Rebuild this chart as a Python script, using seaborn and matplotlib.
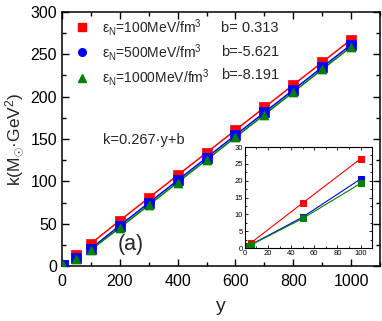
import numpy as np
import pandas as pd
import matplotlib
matplotlib.use("Agg")
import matplotlib.pyplot as plt
import seaborn as sns
from matplotlib.lines import Line2D
from matplotlib.ticker import MultipleLocator

sns.set_theme(style="ticks")
plt.rcParams['font.family'] = ['Liberation Sans', 'DejaVu Sans']
plt.rcParams['mathtext.fontset'] = 'custom'
plt.rcParams['mathtext.rm'] = 'Liberation Sans'
plt.rcParams['mathtext.it'] = 'Liberation Sans:italic'
plt.rcParams['mathtext.sf'] = 'Liberation Sans'

# ---- data ----
y_vals = [1, 5, 50, 100, 200, 300, 400, 500, 600, 700, 800, 900, 1000]
k_100 = [0.5, 1.5, 13.4, 26.5, 53.7, 80.4, 107.1, 133.8, 160.5, 187.2, 213.9, 240.6, 267.3]
k_500 = [0.3, 1.0, 9.2, 20.5, 47.8, 74.5, 101.2, 127.9, 154.6, 181.3, 208.0, 234.7, 261.4]
k_1000 = [0.3, 0.9, 8.8, 19.2, 45.2, 71.9, 98.6, 125.3, 152.0, 178.7, 205.4, 232.1, 258.8]
series_labels = [r'ε$_{\mathrm{N}}$=100MeV/fm$^{3}$',
                 r'ε$_{\mathrm{N}}$=500MeV/fm$^{3}$',
                 r'ε$_{\mathrm{N}}$=1000MeV/fm$^{3}$']
b_labels = ['b= 0.313', 'b=-5.621', 'b=-8.191']
colors = ['#ff0000', '#0000ff', '#008000']
main_markers = ['s', 's', '^']
legend_markers = ['s', 'o', '^']

rows = []
for lab, ks in zip(series_labels, [k_100, k_500, k_1000]):
    for yv, kv in zip(y_vals, ks):
        rows.append({'y': yv, 'k': kv, 'series': lab})
df = pd.DataFrame(rows)

fig = plt.figure(figsize=(3.82, 3.21), dpi=100)
ax = fig.add_axes([0.162, 0.171, 0.833, 0.792])

for lab, col, mk in zip(series_labels, colors, main_markers):
    sub = df[df['series'] == lab]
    fit = sub[sub['y'] >= 100]
    sns.lineplot(data=fit, x='y', y='k', color=col, lw=1.1, ax=ax, legend=False)
    sns.scatterplot(data=sub, x='y', y='k', color=col, marker=mk, s=42,
                    edgecolor=col, linewidth=0.5, ax=ax, legend=False, zorder=3)

ax.set_xlim(0, 1100)
ax.set_ylim(0, 300)
ax.xaxis.set_major_locator(MultipleLocator(200))
ax.xaxis.set_minor_locator(MultipleLocator(100))
ax.yaxis.set_major_locator(MultipleLocator(50))
ax.yaxis.set_minor_locator(MultipleLocator(25))
ax.tick_params(which='both', direction='in', top=True, right=True, labelsize=11.5,
               width=1, colors='black')
ax.tick_params(which='major', length=5)
ax.tick_params(which='minor', length=3)
ax.tick_params(axis='x', pad=6)
for s in ax.spines.values():
    s.set_linewidth(1.1)
    s.set_color('black')
ax.set_xlabel('y', fontsize=14, labelpad=6)
ax.set_ylabel(r'k(M$_{\odot}$·GeV$^{2}$)', fontsize=12.5, labelpad=3)

handles = [Line2D([], [], ls='none', marker=m, color=c, markersize=5.5)
           for m, c in zip(legend_markers, colors)]
leg = ax.legend(handles, series_labels, loc='upper left', frameon=False,
                bbox_to_anchor=(0.0, 1.02), fontsize=10, handletextpad=0.7,
                labelspacing=0.3, handlelength=1.5, borderaxespad=0.3)
for i, bl in enumerate(b_labels):
    ax.text(0.50, 0.937 - i * 0.093, bl, transform=ax.transAxes,
            fontsize=10.5, va='center', ha='left')
ax.text(0.13, 0.496, 'k=0.267·y+b', transform=ax.transAxes, fontsize=10.5,
        va='center', ha='left')
ax.text(0.175, 0.085, '(a)', transform=ax.transAxes, fontsize=15.5,
        va='center', ha='left')

# inset
ins = fig.add_axes([0.641, 0.227, 0.333, 0.315])
for lab, col in zip(series_labels, colors):
    sub = df[(df['series'] == lab) & (df['y'] <= 100)]
    sns.lineplot(data=sub, x='y', y='k', color=col, lw=0.8, ax=ins, legend=False,
                 marker='s', markersize=4, markeredgecolor=col)
ins.set_xlim(0, 110)
ins.set_ylim(0, 30)
ins.xaxis.set_major_locator(MultipleLocator(20))
ins.xaxis.set_minor_locator(MultipleLocator(10))
ins.yaxis.set_major_locator(MultipleLocator(5))
ins.yaxis.set_minor_locator(MultipleLocator(2.5))
ins.tick_params(which='both', direction='in', top=True, right=True, labelsize=5.5,
                pad=1.5, width=0.6, colors='black')
ins.tick_params(which='major', length=2.5)
ins.tick_params(which='minor', length=1.5)
ins.set_xlabel('')
ins.set_ylabel('')
for s in ins.spines.values():
    s.set_linewidth(0.8)
    s.set_color('black')

fig.savefig('out.png', dpi=100)
